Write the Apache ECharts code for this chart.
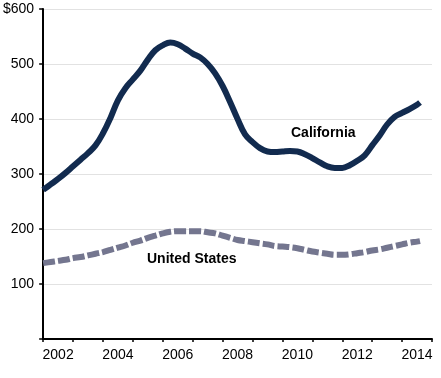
<!DOCTYPE html>
<html>
<head>
<meta charset="utf-8">
<style>html,body{margin:0;padding:0;background:#fff}#c{width:441px;height:378px}</style>
<script src="https://cdn.jsdelivr.net/npm/echarts@6/dist/echarts.min.js"></script>
</head>
<body>
<div id="c"></div>
<script>
var quarters = [2002,2002.25,2002.5,2002.75,2003,2003.25,2003.5,2003.75,2004,2004.25,2004.5,2004.75,2005,2005.25,2005.5,2005.75,2006,2006.25,2006.5,2006.75,2007,2007.25,2007.5,2007.75,2008,2008.25,2008.5,2008.75,2009,2009.25,2009.5,2009.75,2010,2010.25,2010.5,2010.75,2011,2011.25,2011.5,2011.75,2012,2012.25,2012.5,2012.75,2013,2013.25,2013.5,2013.75,2014,2014.25,2014.5,2014.6];
var california = [271,281,291,302,314,326,338,352,374,402,434,456,472,488,508,525,534,539,536,528,519,512,500,483,460,431,400,372,358,347,341,340,341,342,341,336,329,321,314,311,311,316,324,334,352,370,390,404,411,418,426,430];
var unitedStates = [138,140,142,144,147,149,152,155,158,162,166,170,175,179,184,188,192,195,196,196,196,196,194,192,188,184,180,178,176,174,172,169,168,167,165,162,159,157,155,153,153,154,156,158,161,163,166,169,172,175,177,178];
var yearLabels = ['2002','','2004','','2006','','2008','','2010','','2012','','2014'];
var seriesNames = ['California','United States'];

function pairs(vals){ return quarters.map(function(q,i){ return [q, vals[i]]; }); }

var chart = echarts.init(document.getElementById('c'));
chart.setOption({
  animation: false,
  grid: {left: 43, right: 9, top: 9, bottom: 39},
  xAxis: [{
    type: 'value', min: 2002, max: 2015, interval: 1,
    axisLine: {show: true, lineStyle: {color: '#000', width: 2}},
    axisTick: {show: true, length: 3, lineStyle: {color: '#000', width: 1.5}},
    axisLabel: {show: false},
    splitLine: {show: false}
  }, {
    type: 'category', position: 'bottom', data: yearLabels, boundaryGap: true,
    axisLine: {show: false}, axisTick: {show: false}, splitLine: {show: false},
    axisLabel: {interval: 0, margin: 9, fontSize: 14, color: '#000', fontFamily: 'Liberation Sans, Arial, sans-serif'}
  }],
  yAxis: {
    type: 'value', min: 0, max: 600, interval: 100,
    axisLine: {show: true, lineStyle: {color: '#000', width: 2}},
    axisTick: {show: true, length: 4, lineStyle: {color: '#000', width: 1.5}},
    axisLabel: {margin: 9, fontSize: 14, color: '#000', fontFamily: 'Liberation Sans, Arial, sans-serif',
      formatter: function(v){ return v === 600 ? '$600' : (v === 0 ? '' : String(v)); }},
    splitLine: {show: true, lineStyle: {color: '#e2e2e2', width: 1}}
  },
  series: [{
    name: seriesNames[0], type: 'line', data: pairs(california), showSymbol: false, smooth: 0.4,
    lineStyle: {color: '#122b4f', width: 6, cap: 'butt'}, z: 3
  }, {
    name: seriesNames[1], type: 'line', data: pairs(unitedStates), showSymbol: false, smooth: 0.4,
    lineStyle: {color: '#74768f', width: 6, type: [12, 3], cap: 'butt'}, z: 2
  }],
  graphic: [{
    type: 'text', left: 291, top: 126,
    style: {text: seriesNames[0], font: 'bold 14px "Liberation Sans", Arial, sans-serif', fill: '#000'}
  }, {
    type: 'text', left: 147, top: 252,
    style: {text: seriesNames[1], font: 'bold 14px "Liberation Sans", Arial, sans-serif', fill: '#000'}
  }]
});
</script>
</body>
</html>
